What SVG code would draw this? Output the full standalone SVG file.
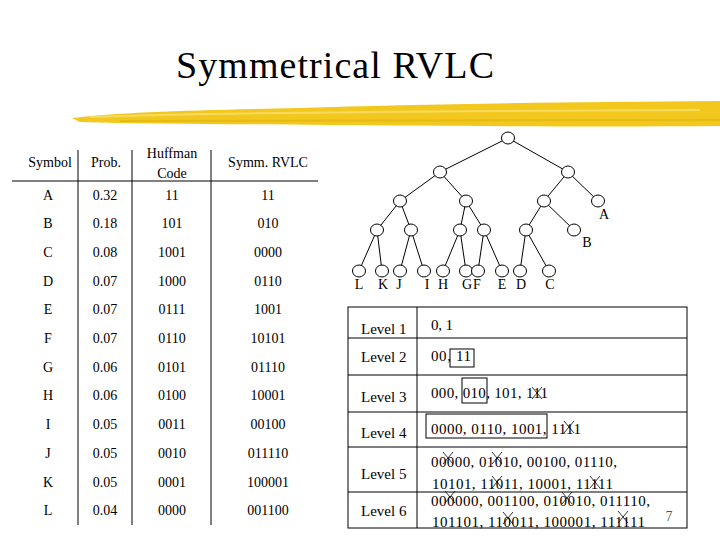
<svg xmlns="http://www.w3.org/2000/svg" width="720" height="540" viewBox="0 0 720 540">
<style>
text{font-family:"Liberation Serif","Times New Roman",serif;fill:#000}
.t{font-size:14px}
.c{text-anchor:middle}
.l{font-size:15px}
.ln{stroke:#000;stroke-width:1;fill:none}
.nd{fill:#fff;stroke:#000;stroke-width:1}
.x{stroke:#000;stroke-width:0.8;fill:none}
</style>
<rect width="720" height="540" fill="#fff"/>
<text x="335" y="78" class="c" font-size="38" textLength="318">Symmetrical RVLC</text>
<g id="brush">
<path d="M72,118 C120,112 200,110 300,108 C420,104 560,102 720,101 L720,126 C600,127 450,126 330,125 C230,124 150,124 80,122 Z" fill="#f2c81e"/>
<path d="M90,117 C200,113 400,111 700,110" stroke="#f8e27a" stroke-width="2" fill="none" opacity="0.7"/>
<path d="M120,121 C300,120 500,121 720,120" stroke="#e0b00c" stroke-width="2" fill="none" opacity="0.6"/>
</g>
<g id="symtable" class="t">
<line class="ln" x1="12" y1="181" x2="318" y2="181"/>
<line class="ln" x1="78" y1="150" x2="78" y2="525"/>
<line class="ln" x1="132" y1="150" x2="132" y2="525"/>
<line class="ln" x1="211" y1="150" x2="211" y2="525"/>
<text x="50" y="167" class="c">Symbol</text>
<text x="106" y="167" class="c">Prob.</text>
<text x="172" y="158" class="c">Huffman</text>
<text x="172" y="178" class="c">Code</text>
<text x="268" y="167" class="c">Symm. RVLC</text>
<g class="c">
<text x="48" y="200">A</text><text x="105" y="200">0.32</text><text x="172" y="200">11</text><text x="268" y="200">11</text>
<text x="48" y="228">B</text><text x="105" y="228">0.18</text><text x="172" y="228">101</text><text x="268" y="228">010</text>
<text x="48" y="257">C</text><text x="105" y="257">0.08</text><text x="172" y="257">1001</text><text x="268" y="257">0000</text>
<text x="48" y="286">D</text><text x="105" y="286">0.07</text><text x="172" y="286">1000</text><text x="268" y="286">0110</text>
<text x="48" y="314">E</text><text x="105" y="314">0.07</text><text x="172" y="314">0111</text><text x="268" y="314">1001</text>
<text x="48" y="343">F</text><text x="105" y="343">0.07</text><text x="172" y="343">0110</text><text x="268" y="343">10101</text>
<text x="48" y="372">G</text><text x="105" y="372">0.06</text><text x="172" y="372">0101</text><text x="268" y="372">01110</text>
<text x="48" y="400">H</text><text x="105" y="400">0.06</text><text x="172" y="400">0100</text><text x="268" y="400">10001</text>
<text x="48" y="429">I</text><text x="105" y="429">0.05</text><text x="172" y="429">0011</text><text x="268" y="429">00100</text>
<text x="48" y="458">J</text><text x="105" y="458">0.05</text><text x="172" y="458">0010</text><text x="268" y="458">011110</text>
<text x="48" y="487">K</text><text x="105" y="487">0.05</text><text x="172" y="487">0001</text><text x="268" y="487">100001</text>
<text x="48" y="515">L</text><text x="105" y="515">0.04</text><text x="172" y="515">0000</text><text x="268" y="515">001100</text>
</g>
</g>
<g id="connectors">
<path class="ln" d="M508,138 L440,172 M508,138 L568,172 M440,172 L400,201 M440,172 L466,201 M568,172 L544,201 M568,172 L598,201 M400,201 L377,230 M400,201 L411,230 M466,201 L460,230 M466,201 L484,230 M544,201 L526,230 M544,201 L574,230 M377,230 L359,271 M377,230 L382,271 M411,230 L400,271 M411,230 L424,271 M460,230 L443,271 M460,230 L466,271 M484,230 L478,271 M484,230 L502,271 M526,230 L520,271 M526,230 L549,271"/>
</g>
<g id="tree">
<g id="n0"><ellipse class="nd" cx="508" cy="138" rx="6.5" ry="6"/></g>
<g id="n1"><ellipse class="nd" cx="440" cy="172" rx="6.5" ry="6"/></g>
<g id="n2"><ellipse class="nd" cx="568" cy="172" rx="6.5" ry="6"/></g>
<g id="n3"><ellipse class="nd" cx="400" cy="201" rx="6.5" ry="6"/></g>
<g id="n4"><ellipse class="nd" cx="466" cy="201" rx="6.5" ry="6"/></g>
<g id="n5"><ellipse class="nd" cx="544" cy="201" rx="6.5" ry="6"/></g>
<g id="nA"><ellipse class="nd" cx="598" cy="201" rx="6.5" ry="6"/><text x="604" y="219" class="t c">A</text></g>
<g id="n6"><ellipse class="nd" cx="377" cy="230" rx="6.5" ry="6"/></g>
<g id="n7"><ellipse class="nd" cx="411" cy="230" rx="6.5" ry="6"/></g>
<g id="n8"><ellipse class="nd" cx="460" cy="230" rx="6.5" ry="6"/></g>
<g id="n9"><ellipse class="nd" cx="484" cy="230" rx="6.5" ry="6"/></g>
<g id="n10"><ellipse class="nd" cx="526" cy="230" rx="6.5" ry="6"/></g>
<g id="nB"><ellipse class="nd" cx="574" cy="230" rx="6.5" ry="6"/><text x="587" y="247" class="t c">B</text></g>
<g id="nL"><ellipse class="nd" cx="359" cy="271" rx="6.5" ry="6"/><text x="359" y="289" class="t c">L</text></g>
<g id="nK"><ellipse class="nd" cx="382" cy="271" rx="6.5" ry="6"/><text x="383" y="289" class="t c">K</text></g>
<g id="nJ"><ellipse class="nd" cx="400" cy="271" rx="6.5" ry="6"/><text x="399" y="289" class="t c">J</text></g>
<g id="nI"><ellipse class="nd" cx="424" cy="271" rx="6.5" ry="6"/><text x="427" y="289" class="t c">I</text></g>
<g id="nH"><ellipse class="nd" cx="443" cy="271" rx="6.5" ry="6"/><text x="443" y="289" class="t c">H</text></g>
<g id="nG"><ellipse class="nd" cx="466" cy="271" rx="6.5" ry="6"/><text x="467" y="289" class="t c">G</text></g>
<g id="nF"><ellipse class="nd" cx="478" cy="271" rx="6.5" ry="6"/><text x="477" y="289" class="t c">F</text></g>
<g id="nE"><ellipse class="nd" cx="502" cy="271" rx="6.5" ry="6"/><text x="502" y="289" class="t c">E</text></g>
<g id="nD"><ellipse class="nd" cx="520" cy="271" rx="6.5" ry="6"/><text x="521" y="289" class="t c">D</text></g>
<g id="nC"><ellipse class="nd" cx="549" cy="271" rx="6.5" ry="6"/><text x="550" y="289" class="t c">C</text></g>
</g>
<g id="levels">
<rect class="ln" x="348" y="307" width="339" height="221"/>
<line class="ln" x1="417" y1="307" x2="417" y2="528"/>
<path class="ln" d="M348,338 H687 M348,375 H687 M348,412 H687 M348,447 H687 M348,492 H687"/>
<text x="361" y="334" class="l">Level 1</text>
<text x="361" y="362" class="l">Level 2</text>
<text x="361" y="402" class="l">Level 3</text>
<text x="361" y="438" class="l">Level 4</text>
<text x="361" y="479" class="l">Level 5</text>
<text x="361" y="516" class="l">Level 6</text>
<text x="431" y="330" class="l" textLength="22">0, 1</text>
<text x="431" y="361" class="l" textLength="40">00, 11</text>
<text x="431" y="398" class="l" textLength="117">000, 010, 101, 111</text>
<text x="431" y="434" class="l" textLength="150">0000, 0110, 1001, 1111</text>
<text x="431" y="467" class="l" textLength="186">00000, 01010, 00100, 01110,</text>
<text x="432" y="489" class="l" textLength="181">10101, 11011, 10001, 11111</text>
<text x="431" y="506" class="l" textLength="219">000000, 001100, 010010, 011110,</text>
<text x="432" y="527" class="l" textLength="213">101101, 110011, 100001, 111111</text>
<rect class="ln" x="450" y="349" width="24" height="18"/>
<rect class="ln" x="462" y="378" width="25" height="25"/>
<rect class="ln" x="426" y="414" width="121" height="24"/>
<path class="x" d="M532,387 L542,399 M532,399 L542,387 M564,421 L574,433 M564,433 L574,421 M443,452 L453,464 M443,464 L453,452 M492,452 L502,464 M492,464 L502,452 M492,476 L502,488 M492,488 L502,476 M590,476 L600,488 M590,488 L600,476 M445,491 L455,503 M445,503 L455,491 M562,492 L572,504 M562,504 L572,492 M503,512 L513,524 M503,524 L513,512 M618,511 L628,523 M618,523 L628,511"/>
<text x="669" y="521" class="t c" style="fill:#555">7</text>
</g>
</svg>
